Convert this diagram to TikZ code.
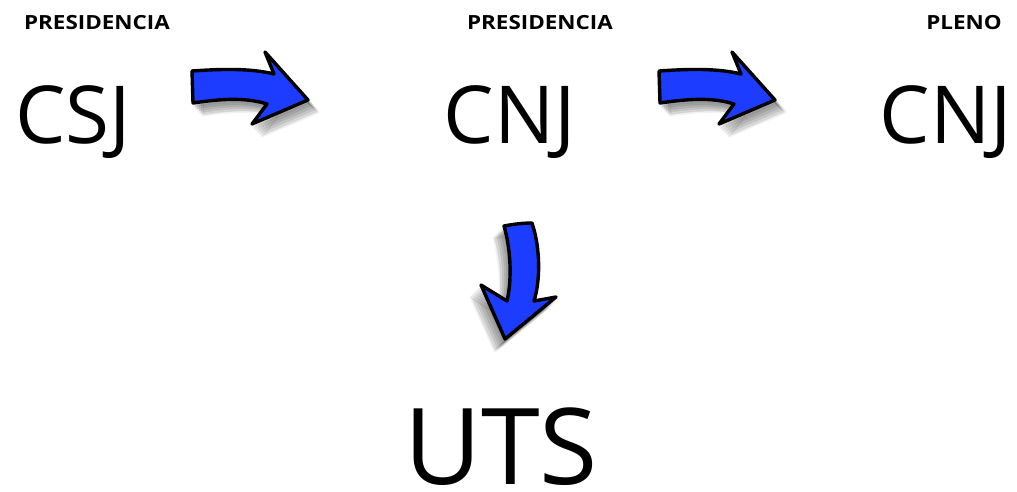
\documentclass[tikz,border=0pt]{standalone}
\usepackage{fontspec}
\setmainfont{Open Sans}
\usepackage{graphicx}
\definecolor{arrowblue}{RGB}{28,60,255}
\tikzset{
  lab/.style={inner sep=0pt, anchor=base, font=\fontsize{19.5}{19.5}\selectfont\bfseries},
  big/.style={inner sep=0pt, anchor=base, font=\fontsize{80}{80}\selectfont},
  huge/.style={inner sep=0pt, anchor=base, font=\fontsize{106}{106}\selectfont},
  bluearrow/.style={fill=arrowblue, draw=black, line width=3.4pt, line join=round},
  shade/.style={fill=black, fill opacity=0.09, draw=black, draw opacity=0.05, line width=3pt, line join=round},
}
\newcommand\rightarrowpath{(192,71) .. controls (220,69) and (250,68) .. (274,74) -- (265,52) -- (308,100) -- (252,124) -- (267,104) .. controls (245,97) and (220,99) .. (193,103) -- cycle}
\newcommand\downarrowpath{(504,226) .. controls (514,224) and (524,223) .. (532,223) .. controls (541,250) and (540,282) .. (534,301) -- (556,297) -- (505,339) -- (481,285) -- (507,301) .. controls (512,280) and (511,250) .. cycle}
\begin{document}
\begin{tikzpicture}[x=1pt,y=-1pt]
\useasboundingbox (0,0) rectangle (1017,491);
\node[lab] (l1) at (97,29) {\scalebox{1.15}[1]{PRESIDENCIA}};
\node[lab] (l2) at (540,29) {\scalebox{1.15}[1]{PRESIDENCIA}};
\node[lab] (l3) at (964,29) {\scalebox{1.15}[1]{PLENO}};
\node[big] (csj) at (73,143) {CSJ};
\node[big] (cnj1) at (510,143) {CNJ};
\node[big] (cnj2) at (946,143) {CNJ};
\node[huge] (uts) at (501,484) {UTS};
% shadows
\foreach \dx/\dy in {2/4,4/6,6/8,8/10,10/12}{
  \filldraw[shade, shift={(\dx,\dy)}] \rightarrowpath;
  \filldraw[shade, shift={(\dx+467,\dy)}] \rightarrowpath;
  \filldraw[shade, shift={(-\dx,\dy)}] \downarrowpath;
}
\draw[bluearrow] \rightarrowpath;
\draw[bluearrow, shift={(467,0)}] \rightarrowpath;
\draw[bluearrow] \downarrowpath;
\end{tikzpicture}
\end{document}
